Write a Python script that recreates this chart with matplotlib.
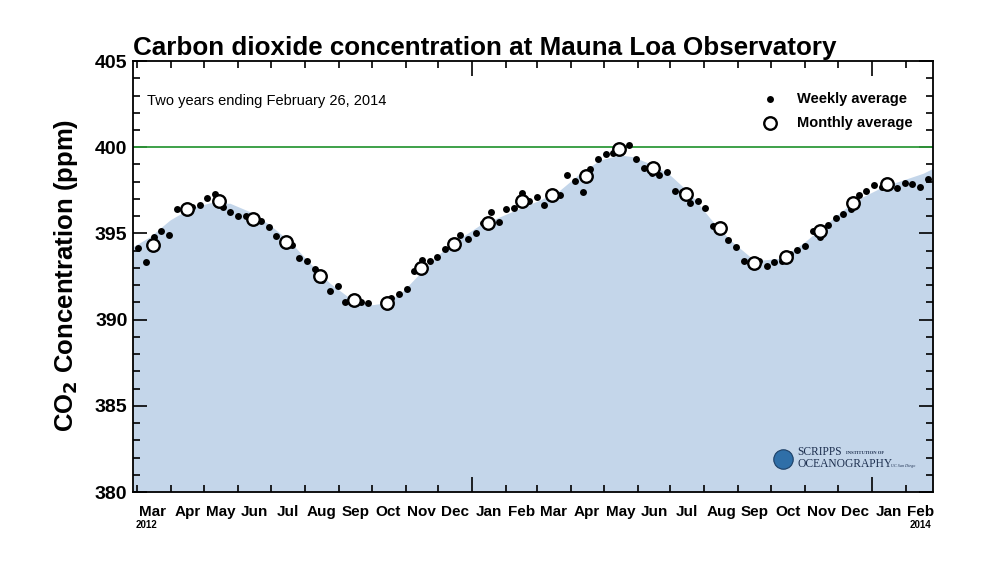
import numpy as np
import matplotlib
matplotlib.use('Agg')
import matplotlib.pyplot as plt
import matplotlib.transforms as mtransforms

plt.rcParams['font.family'] = ['Liberation Sans', 'DejaVu Sans']

start = np.datetime64('2012-02-26')
end = np.datetime64('2014-02-26')

# weekly averages, one per week starting 2012-03-02 (nan = no value)
weekly_first = np.datetime64('2012-03-02')
weekly_ppm = [
    394.14, 393.36, 394.77, 395.16, 394.89, 396.43, 396.36, 396.51, 396.66, 397.05,
    397.29, 396.51, 396.26, 396.01, 396.01, 395.85, 395.72, 395.35, 394.85, 394.52,
    394.33, 393.57, 393.40, 392.92, 392.30, 391.68, 391.97, 391.04, 390.98, 391.00,
    390.95, np.nan, 391.00, 391.27, 391.47, 391.75, 392.81, 393.46, 393.41, 393.63,
    394.08, 394.50, 394.89, 394.66, 395.04, 395.59, 396.24, 395.68, 396.42, 396.49,
    397.34, 396.90, 397.13, 396.63, 397.24, 397.21, 398.39, 398.04, 397.42, 398.74,
    399.32, 399.61, 399.68, 399.94, 400.13, 399.32, 398.81, 398.49, 398.39, 398.54,
    397.44, 397.42, 396.75, 396.88, 396.49, 395.45, 395.16, 394.62, 394.21, 393.40,
    393.17, 393.42, 393.11, 393.36, 393.40, 393.79, 394.02, 394.27, 395.16, 394.77,
    395.50, 395.91, 396.14, 396.43, 397.23, 397.46, 397.79, 397.71, 397.96, 397.62,
    397.91, 397.87, 397.71, 398.14,
]

# monthly averages, Mar 2012 .. Jan 2014 (plotted mid-month)
monthly_ppm = [
    394.33, 396.43, 396.88, 395.85, 394.52, 392.55, 391.14, 390.98, 392.98, 394.39,
    395.62, 396.88, 397.24, 398.33, 399.90, 398.81, 397.27, 395.33, 393.28, 393.61,
    395.12, 396.75, 397.85,
]

# smooth curve under the shading (days after 2012-02-26, ppm)
fill_day = [0, 15.5, 33.8, 52.1, 70.4, 88.6, 106.9, 125.2, 143.5, 161.8,
            180.0, 198.3, 216.6, 228.4, 244.0, 262.3, 280.5, 298.8, 317.1, 335.4,
            353.6, 371.9, 390.2, 408.5, 426.8, 445.0, 456.9, 475.2, 490.7, 509.0,
            527.3, 545.6, 563.8, 575.7, 591.2, 612.2, 630.5, 648.8, 667.0, 685.3,
            703.6, 721.9, 731.0]
fill_ppm = [394.23, 394.81, 395.78, 396.46, 396.78, 396.75, 396.26, 395.49, 394.52, 393.27,
            392.11, 391.24, 390.85, 390.95, 391.48, 392.69, 393.85, 394.72, 395.49, 395.97,
            396.46, 396.94, 397.52, 398.49, 399.26, 399.55, 399.45, 398.97, 398.39, 397.33,
            395.88, 394.62, 393.65, 393.46, 393.56, 394.43, 395.39, 396.36, 397.13, 397.71,
            398.10, 398.49, 398.78]

month_names = ['Jan', 'Feb', 'Mar', 'Apr', 'May', 'Jun',
               'Jul', 'Aug', 'Sep', 'Oct', 'Nov', 'Dec']


def days(d):
    return (np.asarray(d).astype('datetime64[D]') - start).astype(float)


weekly_x = days(weekly_first + np.arange(len(weekly_ppm)) * np.timedelta64(7, 'D'))
monthly_x = days(np.arange('2012-03', '2014-02', dtype='datetime64[M]').astype('datetime64[D]')
                 + np.timedelta64(14, 'D'))

month_starts = np.arange('2012-03', '2014-03', dtype='datetime64[M]')
month_edges = days(np.arange('2012-03', '2014-04', dtype='datetime64[M]'))
tick_x = month_edges[:-1]
mid_x = (month_edges[:-1] + month_edges[1:]) / 2
mid_x[0] = (0 + month_edges[1]) / 2   # first month is only partly shown
mid_labels = [month_names[int(str(m)[5:7]) - 1] for m in month_starts]

fig = plt.figure(figsize=(10, 5.7), dpi=100)
ax = fig.add_axes([0.133, 0.1368, 0.8, 0.7561])

ax.fill_between(fill_day, 380, fill_ppm, color='#c4d6ea', lw=0, zorder=1)
ax.axhline(400, color='#2f9a3a', lw=1.3, zorder=2)
ax.plot(weekly_x, weekly_ppm, 'o', color='black', ms=5, mew=0, zorder=3)
ax.plot(monthly_x, monthly_ppm, 'o', mfc='white', mec='black', ms=9, mew=1.7, zorder=4)

ax.set_xlim(0, days(end))
ax.set_ylim(380, 405)

# y axis
ax.set_yticks(np.arange(380, 406, 5))
ax.set_yticks(np.arange(380, 406, 1), minor=True)
ax.tick_params(axis='y', which='major', direction='in', length=10, width=1.2,
               right=True, labelsize=14, pad=4)
ax.tick_params(axis='y', which='minor', direction='in', length=5, width=1.2, right=True)
for lab in ax.get_yticklabels():
    lab.set_fontweight('bold')

# x axis: ticks at month starts, labels mid-month
ax.set_xticks(tick_x)
ax.set_xticklabels([])
ax.set_xticks(mid_x, mid_labels, minor=True)
ax.tick_params(axis='x', which='major', direction='in', length=5, width=1.2, top=True)
ax.tick_params(axis='x', which='minor', length=0, pad=9, labelsize=11)
for lab in ax.get_xticklabels(minor=True):
    lab.set_fontweight('bold')
for tick, m in zip(ax.xaxis.get_major_ticks(), month_starts):
    if str(m).endswith('-01'):
        tick.tick1line.set_markersize(11)
        tick.tick2line.set_markersize(11)

trans = mtransforms.blended_transform_factory(ax.transData, ax.transAxes)
ax.text(mid_x[0] - 5, -0.066, '2012', transform=trans, ha='center', va='top',
        fontsize=7, fontweight='bold')
ax.text(mid_x[-1], -0.066, '2014', transform=trans, ha='center', va='top',
        fontsize=7, fontweight='bold')

for s in ax.spines.values():
    s.set_linewidth(1.3)

fig.text(0.133, 0.916, 'Carbon dioxide concentration at Mauna Loa Observatory',
         fontsize=18.7, fontweight='bold', ha='left', va='center')
fig.text(0.066, 0.516, 'CO$_\\mathbf{2}$ Concentration (ppm)', rotation=90,
         fontsize=18.5, fontweight='bold', ha='center', va='center')

ax.text(0.0175, 0.907, 'Two years ending February 26, 2014', transform=ax.transAxes,
        fontsize=10.5, ha='left', va='center')

# legend
ax.plot([0.796], [0.912], 'o', color='black', ms=5, mew=0, transform=ax.transAxes)
ax.plot([0.796], [0.856], 'o', mfc='white', mec='black', ms=9, mew=1.7,
        transform=ax.transAxes)
ax.text(0.83, 0.912, 'Weekly average', transform=ax.transAxes, fontsize=10.5,
        fontweight='bold', va='center')
ax.text(0.83, 0.856, 'Monthly average', transform=ax.transAxes, fontsize=10.5,
        fontweight='bold', va='center')

# Scripps logo
ax.plot([0.8125], [0.076], 'o', ms=14, mfc='#2f6fa8', mec='#1c3f66', mew=0.8,
        transform=ax.transAxes, zorder=5)
ax.text(0.830, 0.092, 'SCRIPPS', transform=ax.transAxes, family='Liberation Serif',
        fontsize=8.3, color='#1d2f4f', va='center')
ax.text(0.8915, 0.090, 'INSTITUTION OF', transform=ax.transAxes, family='Liberation Serif',
        fontsize=3.3, color='#1d2f4f', va='center', fontweight='bold')
ax.text(0.830, 0.064, 'OCEANOGRAPHY', transform=ax.transAxes, family='Liberation Serif',
        fontsize=8.3, color='#1d2f4f', va='center')
ax.text(0.9475, 0.061, 'UC San Diego', transform=ax.transAxes, family='Liberation Serif',
        fontsize=3, color='#1d2f4f', va='center', style='italic')

fig.savefig('out.png', dpi=100)
